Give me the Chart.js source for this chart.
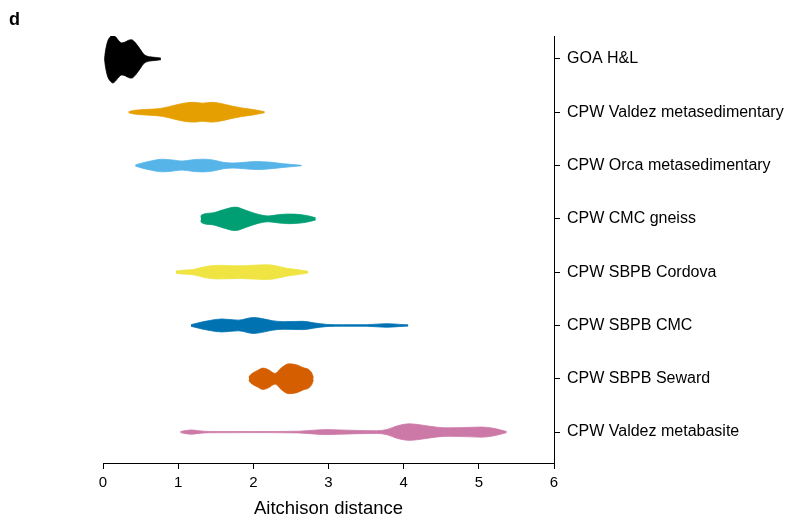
<!DOCTYPE html>
<html>
<head>
<meta charset="utf-8">
<script src="https://cdn.jsdelivr.net/npm/chart.js@4"></script>
<style>
  html, body { margin: 0; padding: 0; background: #ffffff; }
  #wrap { position: relative; width: 789px; height: 520px; }
</style>
</head>
<body>
<div id="wrap"><canvas id="chart" width="789" height="520"></canvas></div>
<script>
// Groups, top to bottom
const categories = [
  'GOA H&L',
  'CPW Valdez metasedimentary',
  'CPW Orca metasedimentary',
  'CPW CMC gneiss',
  'CPW SBPB Cordova',
  'CPW SBPB CMC',
  'CPW SBPB Seward',
  'CPW Valdez metabasite'
];
const colors = ['#000000', '#E69F00', '#56B4E9', '#009E73', '#F0E442', '#0072B2', '#D55E00', '#CC79A7'];
const xTicks = [0, 1, 2, 3, 4, 5, 6];

// Density profiles: distance values and violin half-widths (in category units)
const goaDist = [0.02, 0.03, 0.06, 0.10, 0.13, 0.17, 0.21, 0.25, 0.30, 0.34, 0.38, 0.42, 0.46, 0.50, 0.54, 0.58, 0.62, 0.70, 0.77];
const goaWidth = [0.0, 0.12, 0.32, 0.42, 0.45, 0.41, 0.34, 0.30, 0.32, 0.35, 0.36, 0.32, 0.25, 0.17, 0.09, 0.055, 0.04, 0.028, 0.015];

const valdezSedDist = [0.34, 0.42, 0.55, 0.68, 0.80, 0.95, 1.10, 1.22, 1.32, 1.45, 1.55, 1.70, 1.85, 2.00, 2.15];
const valdezSedWidth = [0.01, 0.035, 0.05, 0.06, 0.08, 0.13, 0.175, 0.185, 0.17, 0.185, 0.17, 0.12, 0.08, 0.05, 0.01];

const orcaDist = [0.43, 0.50, 0.65, 0.78, 0.92, 1.05, 1.20, 1.33, 1.48, 1.60, 1.73, 1.88, 2.04, 2.20, 2.40, 2.64];
const orcaWidth = [0.01, 0.04, 0.09, 0.118, 0.105, 0.085, 0.11, 0.12, 0.10, 0.06, 0.047, 0.06, 0.075, 0.065, 0.035, 0.005];

const gneissDist = [1.30, 1.31, 1.45, 1.60, 1.76, 1.90, 2.05, 2.20, 2.35, 2.47, 2.62, 2.75, 2.83];
const gneissWidth = [0.03, 0.07, 0.11, 0.17, 0.22, 0.16, 0.09, 0.055, 0.08, 0.09, 0.08, 0.05, 0.02];

const cordovaDist = [0.97, 1.05, 1.20, 1.35, 1.51, 1.65, 1.80, 2.00, 2.18, 2.30, 2.44, 2.60, 2.73];
const cordovaWidth = [0.02, 0.035, 0.05, 0.10, 0.128, 0.125, 0.118, 0.13, 0.14, 0.12, 0.075, 0.045, 0.015];

const sbpbCmcDist = [1.17, 1.30, 1.42, 1.58, 1.80, 2.00, 2.15, 2.25, 2.40, 2.55, 2.66, 2.80, 2.98, 3.20, 3.51, 3.77, 3.95, 4.06];
const sbpbCmcWidth = [0.015, 0.06, 0.094, 0.122, 0.10, 0.15, 0.12, 0.09, 0.072, 0.075, 0.078, 0.05, 0.02, 0.014, 0.015, 0.034, 0.02, 0.012];

const sewardDist = [1.94, 1.96, 2.05, 2.13, 2.20, 2.29, 2.37, 2.47, 2.58, 2.66, 2.74, 2.78, 2.80];
const sewardWidth = [0.03, 0.07, 0.15, 0.20, 0.17, 0.10, 0.20, 0.28, 0.26, 0.21, 0.17, 0.10, 0.02];

const metabasiteDist = [1.03, 1.10, 1.18, 1.27, 1.42, 2.00, 2.60, 2.80, 2.98, 3.15, 3.40, 3.64, 3.78, 3.92, 4.08, 4.25, 4.45, 4.60, 4.80, 5.04, 5.20, 5.37];
const metabasiteWidth = [0.01, 0.03, 0.04, 0.025, 0.012, 0.01, 0.016, 0.035, 0.047, 0.04, 0.03, 0.025, 0.05, 0.12, 0.155, 0.13, 0.09, 0.08, 0.085, 0.095, 0.07, 0.01];

const profiles = [
  [goaDist, goaWidth],
  [valdezSedDist, valdezSedWidth],
  [orcaDist, orcaWidth],
  [gneissDist, gneissWidth],
  [cordovaDist, cordovaWidth],
  [sbpbCmcDist, sbpbCmcWidth],
  [sewardDist, sewardWidth],
  [metabasiteDist, metabasiteWidth]
];

// Each violin = an upper outline plus a lower outline filled back to it
const datasets = [];
profiles.forEach(([dist, width], i) => {
  const centre = i + 1;
  const common = {
    borderColor: colors[i],
    backgroundColor: colors[i],
    borderWidth: 0.8,
    pointRadius: 0,
    pointHoverRadius: 0,
    cubicInterpolationMode: 'monotone'
  };
  datasets.push(Object.assign({}, common, {
    data: dist.map((x, k) => ({ x: x, y: centre - width[k] })),
    fill: false
  }));
  datasets.push(Object.assign({}, common, {
    data: dist.map((x, k) => ({ x: x, y: centre + width[k] })),
    fill: '-1'
  }));
});

const FONT = '"Liberation Sans", Arial, Helvetica, sans-serif';

const panelLabel = {
  id: 'panelLabel',
  afterDraw(chart) {
    const ctx = chart.ctx;
    ctx.save();
    ctx.fillStyle = '#000';
    ctx.font = 'bold 18px ' + FONT;
    ctx.textBaseline = 'alphabetic';
    ctx.textAlign = 'left';
    ctx.fillText('d', 9, 25);
    ctx.restore();
  }
};

new Chart(document.getElementById('chart'), {
  type: 'line',
  data: { datasets: datasets },
  plugins: [panelLabel],
  options: {
    responsive: false,
    animation: false,
    events: [],
    layout: { padding: { left: 103, top: 36, right: 0, bottom: 0 } },
    plugins: {
      legend: { display: false },
      tooltip: { enabled: false }
    },
    scales: {
      x: {
        type: 'linear',
        position: 'bottom',
        min: xTicks[0],
        max: xTicks[xTicks.length - 1],
        afterBuildTicks: (scale) => { scale.ticks = xTicks.map(v => ({ value: v })); },
        afterFit: (scale) => { scale.height = 57; },
        ticks: {
          color: '#000',
          font: { family: FONT, size: 15 },
          padding: 5,
          maxRotation: 0
        },
        grid: {
          drawOnChartArea: false,
          drawTicks: true,
          tickLength: 6,
          tickColor: '#000',
          tickWidth: 1
        },
        border: { display: true, color: '#000', width: 1 },
        title: {
          display: true,
          text: 'Aitchison distance',
          color: '#000',
          font: { family: FONT, size: 18.5 },
          padding: { top: 1, bottom: 0 }
        }
      },
      y: {
        type: 'linear',
        position: 'right',
        reverse: true,
        min: 0.57,
        max: 8.58,
        afterBuildTicks: (scale) => { scale.ticks = categories.map((_, i) => ({ value: i + 1 })); },
        afterFit: (scale) => { scale.width = 235; },
        ticks: {
          color: '#000',
          font: { family: FONT, size: 16 },
          padding: 7,
          callback: (v) => categories[Math.round(v) - 1] || ''
        },
        grid: {
          drawOnChartArea: false,
          drawTicks: true,
          tickLength: 6,
          tickColor: '#000',
          tickWidth: 1
        },
        border: { display: true, color: '#000', width: 1 }
      }
    }
  }
});
</script>
</body>
</html>
